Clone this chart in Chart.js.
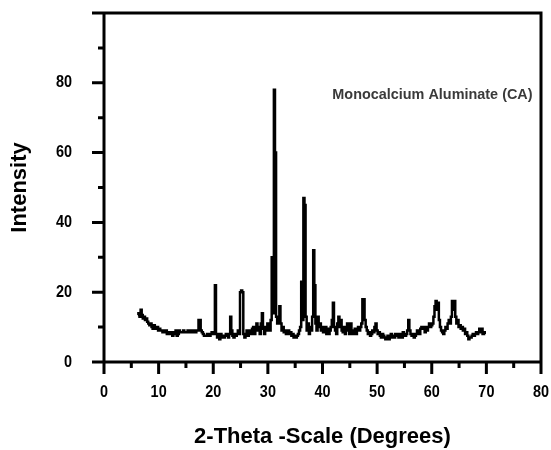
<!DOCTYPE html>
<html><head><meta charset="utf-8">
<style>html,body{margin:0;padding:0;background:#fff}#wrap{width:551px;height:450px}</style>
<script src="https://cdn.jsdelivr.net/npm/chart.js@4/dist/chart.umd.min.js"></script>
</head><body><div id="wrap"><canvas id="c"></canvas></div>
<script>
const twoTheta = [
6.2,6.4,6.6,6.8,7.0, 7.2,7.4,7.6,7.8,8.0, 8.2,8.4,8.6,8.8,9.0, 9.2,9.4,9.6,9.8,10.0,
10.2,10.4,10.6,10.8,11.0, 11.2,11.4,11.6,11.8,12.0, 12.2,12.4,12.6,12.8,13.0, 13.2,13.4,13.6,13.8,14.0,
14.2,14.4,14.6,14.8,15.0, 15.2,15.4,15.6,15.8,16.0, 16.2,16.4,16.6,16.8,17.0, 17.2,17.4,17.6,17.8,18.0,
18.2,18.4,18.6,18.8,19.0, 19.2,19.4,19.6,19.8,20.0, 20.2,20.4,20.6,20.8,21.0, 21.2,21.4,21.6,21.8,22.0,
22.2,22.4,22.6,22.8,23.0, 23.2,23.4,23.6,23.8,24.0, 24.2,24.4,24.6,24.8,25.0, 25.2,25.4,25.6,25.8,26.0,
26.2,26.4,26.6,26.8,27.0, 27.2,27.4,27.6,27.8,28.0, 28.2,28.4,28.6,28.8,29.0, 29.2,29.4,29.6,29.8,30.0,
30.2,30.4,30.6,30.8,31.0, 31.2,31.4,31.6,31.8,32.0, 32.2,32.4,32.6,32.8,33.0, 33.2,33.4,33.6,33.8,34.0,
34.2,34.4,34.6,34.8,35.0, 35.2,35.4,35.6,35.8,36.0, 36.2,36.4,36.6,36.8,37.0, 37.2,37.4,37.6,37.8,38.0,
38.2,38.4,38.6,38.8,39.0, 39.2,39.4,39.6,39.8,40.0, 40.2,40.4,40.6,40.8,41.0, 41.2,41.4,41.6,41.8,42.0,
42.2,42.4,42.6,42.8,43.0, 43.2,43.4,43.6,43.8,44.0, 44.2,44.4,44.6,44.8,45.0, 45.2,45.4,45.6,45.8,46.0,
46.2,46.4,46.6,46.8,47.0, 47.2,47.4,47.6,47.8,48.0, 48.2,48.4,48.6,48.8,49.0, 49.2,49.4,49.6,49.8,50.0,
50.2,50.4,50.6,50.8,51.0, 51.2,51.4,51.6,51.8,52.0, 52.2,52.4,52.6,52.8,53.0, 53.2,53.4,53.6,53.8,54.0,
54.2,54.4,54.6,54.8,55.0, 55.2,55.4,55.6,55.8,56.0, 56.2,56.4,56.6,56.8,57.0, 57.2,57.4,57.6,57.8,58.0,
58.2,58.4,58.6,58.8,59.0, 59.2,59.4,59.6,59.8,60.0, 60.2,60.4,60.6,60.8,61.0, 61.2,61.4,61.6,61.8,62.0,
62.2,62.4,62.6,62.8,63.0, 63.2,63.4,63.6,63.8,64.0, 64.2,64.4,64.6,64.8,65.0, 65.2,65.4,65.6,65.8,66.0,
66.2,66.4,66.6,66.8,67.0, 67.2,67.4,67.6,67.8,68.0, 68.2,68.4,68.6,68.8,69.0, 69.2,69.4,69.6,69.8
];
const intensity = [
13.5,14,13,15,13.5, 12.5,13,12,12.5,11.5, 11,10.5,11,10,9.5, 10.5,10,9.5,10,9,
9.5,9,9,8.5,9, 8.5,9,8,8.5,8, 8,8.5,7.5,8,8.5, 9,7.5,8,9,8.5,
8.5,8.5,9,8.5,8.5, 8.5,9,8.5,8.5,9, 8.5,9,8.5,8.5,9, 9,12,12,9,8.5,
8,7.5,7.5,7.5,8, 8,7.5,8,8.5,8, 8.5,22,8,7,8, 6.5,8,7.5,7,7,
7.5,8,7.5,7,8, 13,9,7.5,7,8, 7.5,8,9,8,20, 20.5,20,8,7,8,
9,7.5,8.5,9,8, 9.5,10,8,9.5,11, 9,10,8,11,14, 9.5,8,10,9,11,
10,9,12,30,14, 78,60,13,11,12, 16,11,9,10,8.5, 9,8,8.5,9,8,
8.5,7.5,8,7,7.5, 7,7.5,8,9,10, 23,12,47,45,13, 9,11,8,10,9,
13,32,22,11,9, 13,10,11,9,10, 8.5,9,10,8,9.5, 8,9,10,12,17,
10,9,8,11,13, 10,12,9,8.5,10, 8,9,11,9,8, 11,8.5,8,9,9.5,
8,9,10,9,10, 11,18,18,12,10, 9,8,8.5,7.5,8, 9,8.5,10,11,9,
8,8.5,7.5,7,8, 7.5,7,6.5,7,7.5, 6.5,7.5,8,7,7.5, 7,8,7.5,8,7,
8,7.5,7,8.5,8, 7.5,8,9,12,9, 8,7.5,8,7,7.5, 8,9,8.5,8,9.5,
10,9.5,10,8.5,10, 9,10,11,10,10.5, 11,13,16,17.5,15, 17,12,10,9,8.5,
8,9,10,9.5,11, 12,11,13,17.5,15, 17.5,13,11,12,10, 10.5,9.5,10,9,9.5,
8,8.5,7.5,6.5,7, 7,7.5,8,7.5,8, 8.5,8,8.5,9.5,8.5, 9.5,8,8.5,8
];
const xTickLabels = [0,10,20,30,40,50,60,70,80];
const yTickLabels = [0,20,40,60,80];
const xTitle = '2-Theta -Scale (Degrees)';
const yTitle = 'Intensity';
const annotationText = 'Monocalcium Aluminate (CA)';
const annotationAt = [41.8, 76.5];

const FONT = "'Liberation Sans', Arial, sans-serif";

function narrowText(ctx, text, x, y, sx) {
  ctx.save();
  ctx.translate(x, y);
  ctx.scale(sx, 1);
  ctx.fillText(text, 0, 0);
  ctx.restore();
}

const frame = {
  id: 'frame',
  afterDatasetsDraw(chart) {
    const ctx = chart.ctx, xs = chart.scales.x, ys = chart.scales.y;
    const L = xs.getPixelForValue(0), R = xs.getPixelForValue(80);
    const B = ys.getPixelForValue(0), T = ys.getPixelForValue(100);
    ctx.save();
    ctx.strokeStyle = '#000';
    ctx.lineWidth = 3;
    ctx.lineCap = 'butt';
    ctx.beginPath();
    ctx.moveTo(L, T); ctx.lineTo(L, B + 1.5);
    ctx.moveTo(L - 1.5, B); ctx.lineTo(R + 1.5, B);
    ctx.moveTo(L - 1.5, T); ctx.lineTo(R + 1.5, T);
    ctx.moveTo(R, T); ctx.lineTo(R, B);
    for (let v = 0; v <= 100; v += 10) {
      const y = ys.getPixelForValue(v);
      const len = v % 20 === 0 ? 12 : 6;
      ctx.moveTo(L, y); ctx.lineTo(L - len, y);
    }
    for (let v = 0; v <= 80; v += 5) {
      const x = xs.getPixelForValue(v);
      const len = v % 10 === 0 ? 12 : 6;
      ctx.moveTo(x, B); ctx.lineTo(x, B + len);
    }
    ctx.stroke();
    ctx.fillStyle = '#000';
    ctx.font = 'bold 17px ' + FONT;
    ctx.textBaseline = 'middle';
    ctx.textAlign = 'right';
    yTickLabels.forEach(v => narrowText(ctx, String(v), L - 32, ys.getPixelForValue(v), 0.85));
    ctx.textAlign = 'center';
    xTickLabels.forEach(v => narrowText(ctx, String(v), xs.getPixelForValue(v), B + 30, 0.85));
    ctx.fillStyle = '#3a3a3a';
    ctx.font = 'bold 15.5px ' + FONT;
    ctx.textAlign = 'left';
    narrowText(ctx, annotationText, xs.getPixelForValue(annotationAt[0]), ys.getPixelForValue(annotationAt[1]), 0.93);
    ctx.restore();
  }
};

new Chart(document.getElementById('c'), {
  type: 'line',
  data: {
    datasets: [{
      data: twoTheta.map((x, i) => ({x: x, y: intensity[i]})),
      borderColor: '#000',
      borderWidth: 2.5,
      pointRadius: 0,
      stepped: 'middle',
      fill: false
    }]
  },
  options: {
    responsive: true,
    maintainAspectRatio: false,
    devicePixelRatio: 1,
    animation: false,
    layout: {padding: {left: 0, top: 13, right: 10, bottom: 0}},
    plugins: {legend: {display: false}, tooltip: {enabled: false}},
    scales: {
      x: {
        type: 'linear', min: 0, max: 80,
        afterFit(s) { s.height = 88; },
        border: {display: false},
        grid: {display: false},
        ticks: {display: false},
        title: {display: true, text: xTitle, color: '#000', font: {family: FONT, size: 22, weight: 'bold'}, padding: {top: 0, bottom: 0}}
      },
      y: {
        type: 'linear', min: 0, max: 100,
        afterFit(s) { s.width = 104; },
        border: {display: false},
        grid: {display: false},
        ticks: {display: false},
        title: {display: true, text: yTitle, color: '#000', font: {family: FONT, size: 22, weight: 'bold'}, padding: {top: 7, bottom: 0}}
      }
    }
  },
  plugins: [frame]
});
</script>
</body></html>
